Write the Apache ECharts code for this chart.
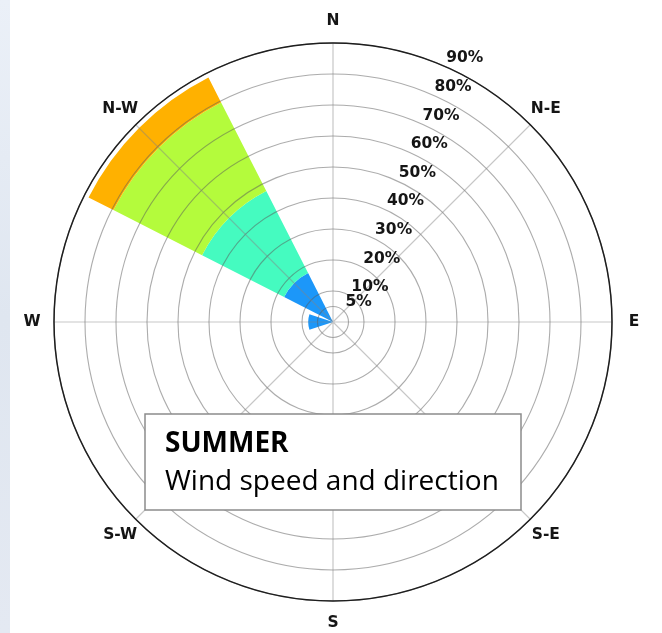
<!DOCTYPE html>
<html>
<head>
<meta charset="utf-8">
<script src="https://cdn.jsdelivr.net/npm/echarts@6/dist/echarts.min.js"></script>
<style>
  html, body { margin: 0; padding: 0; background: #fff; }
  #strip { position: absolute; left: 0; top: 0; width: 10px; height: 633px;
           background: linear-gradient(to bottom, #ebf0f8, #dfe6f0 50%, #e4e9f2); }
  .layer { position: absolute; left: 0; top: 0; width: 662px; height: 633px; }
</style>
</head>
<body>
<div id="strip"></div>
<!-- the rose sectors go in the lower layer, the grid and text in the upper one -->
<div id="roseLayer" class="layer"></div>
<div id="gridLayer" class="layer"></div>
<script>
// Compass sectors, clockwise from north
const directions = ['N', 'N-E', 'E', 'S-E', 'S', 'S-W', 'W', 'N-W'];
const directionBearings = [0, 45, 90, 135, 180, 225, 270, 315];

// Frequency (%) per direction for each wind-speed class, stacked outwards
const speedClass1 = [0, 0, 0, 0, 0, 0, 8.0, 17.7];
const speedClass2 = [0, 0, 0, 0, 0, 0, 0, 29.7];
const speedClass3 = [0, 0, 0, 0, 0, 0, 0, 32.1];
const speedClass4 = [0, 0, 0, 0, 0, 0, 0, 9.0];

// Frequency rings and their labels
const ringValues = [5, 10, 20, 30, 40, 50, 60, 70, 80, 90];
const ringLabels = ['5%', '10%', '20%', '30%', '40%', '50%', '60%', '70%', '80%', '90%'];

const radialMax = 90;
const ringLabelBearing = 22.5;     // compass bearing along which ring labels sit
const compassLabelRadius = 97.1;   // compass names sit just outside the outer ring
const classColors = ['#1c97f9', '#45fbc0', '#b4fb3c', '#ffb100'];
const labelFont = { fontFamily: 'DejaVu Sans', fontWeight: 'bold', fontSize: 15.5, color: '#151515' };

// shared polar geometry for both layers
const polarFrame = { center: [333, 322], radius: 279 };
const sectorAxis = {
  type: 'category',
  data: directions,
  startAngle: 112.5,
  clockwise: true,
  boundaryGap: true
};
const frequencyAxis = { type: 'value', min: 0, max: radialMax };

// ---- lower layer: stacked wind-speed classes ----
const rose = echarts.init(document.getElementById('roseLayer'), null, { renderer: 'canvas' });
rose.setOption({
  animation: false,
  polar: polarFrame,
  angleAxis: Object.assign({ show: false }, sectorAxis),
  radiusAxis: Object.assign({ show: false }, frequencyAxis),
  series: [speedClass1, speedClass2, speedClass3, speedClass4].map((values, i) => ({
    type: 'bar',
    name: 'Speed class ' + (i + 1),
    coordinateSystem: 'polar',
    stack: 'wind',
    data: values,
    barCategoryGap: '20%',
    itemStyle: { color: classColors[i] },
    silent: true
  }))
});

// ---- upper layer: grid, ring values, compass names, caption ----
function textSeries(data, labelOpt) {
  return {
    type: 'scatter',
    coordinateSystem: 'polar',
    polarIndex: 1,
    clip: false,
    silent: true,
    symbolSize: 1,
    itemStyle: { color: 'transparent', opacity: 1 },
    data: data,
    label: Object.assign({ show: true }, labelFont, labelOpt),
    z: 10
  };
}

const grid = echarts.init(document.getElementById('gridLayer'), null, { renderer: 'canvas' });
grid.setOption({
  animation: false,
  backgroundColor: 'transparent',
  polar: [polarFrame, polarFrame],
  angleAxis: [
    Object.assign({
      polarIndex: 0,
      axisLine: { show: true, lineStyle: { color: '#1e1e1e', width: 1.5 } },
      axisTick: { show: false, alignWithLabel: true },
      axisLabel: { show: false },
      splitLine: { show: true, lineStyle: { color: 'rgba(130,130,130,0.45)', width: 1.2 } }
    }, sectorAxis),
    { polarIndex: 1, type: 'value', min: 0, max: 360, startAngle: 90, clockwise: true, show: false }
  ],
  radiusAxis: [
    Object.assign({
      polarIndex: 0,
      axisLine: { show: false },
      axisTick: { show: false, customValues: ringValues },
      axisLabel: { show: false },
      splitLine: { show: true, lineStyle: { color: 'rgba(90,90,90,0.5)', width: 1.1 } }
    }, frequencyAxis),
    Object.assign({ polarIndex: 1, show: false }, frequencyAxis)
  ],
  series: [
    textSeries(
      ringValues.map((v, i) => ({ value: [v, ringLabelBearing], label: { formatter: ringLabels[i] } })),
      { position: 'right', distance: 6, offset: [0, -6] }
    ),
    textSeries(
      directions.map((d, i) => ({ value: [compassLabelRadius, directionBearings[i]], label: { formatter: d } })),
      { position: 'inside', align: 'center', verticalAlign: 'middle' }
    )
  ],
  graphic: [
    {
      type: 'rect', z: 100,
      shape: { x: 145, y: 414, width: 376, height: 96 },
      style: { fill: '#fff', stroke: '#8c8c8c', lineWidth: 1.5 }
    },
    {
      type: 'text', z: 101, x: 165, y: 444,
      style: { text: 'SUMMER', fontFamily: 'Open Sans', fontWeight: 'bold', fontSize: 28, fill: '#000', verticalAlign: 'middle' }
    },
    {
      type: 'text', z: 101, x: 165, y: 482,
      style: { text: 'Wind speed and direction', fontFamily: 'Open Sans', fontSize: 28, fill: '#000', verticalAlign: 'middle' }
    }
  ]
});
</script>
</body>
</html>
